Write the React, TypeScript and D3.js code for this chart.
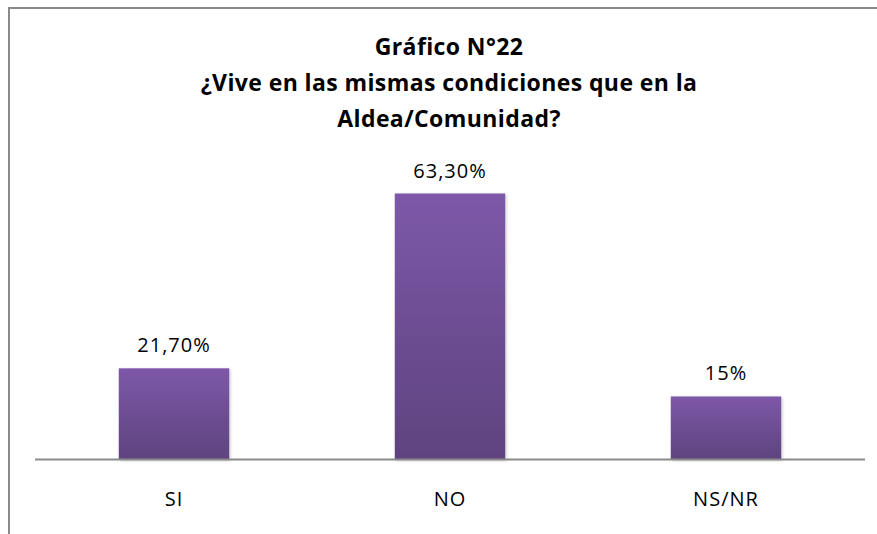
import React from "react";
import * as d3 from "d3";

const categories = ["SI", "NO", "NS/NR"];
const values = [21.7, 63.3, 15];
const valueLabels = ["21,70%", "63,30%", "15%"];
const titleLines = ["Gráfico N°22", "¿Vive en las mismas condiciones que en la", "Aldea/Comunidad?"];

export default function App() {
  const W = 877, H = 534;
  const x = d3.scaleBand<string>().domain(categories).range([36, 864]).paddingInner(0.6).paddingOuter(0.3);
  const y = d3.scaleLinear().domain([0, 63.3]).range([459.5, 193.5]);
  const font = "'Open Sans', sans-serif";
  return (
    <svg width={W} height={H} style={{ position: "absolute", left: 0, top: 0 }} fontFamily={font}>
      <defs>
        <linearGradient id="barGrad" x1="0" y1="0" x2="0" y2="1">
          <stop offset="0%" stopColor="#7D58A8" />
          <stop offset="100%" stopColor="#5E437F" />
        </linearGradient>
        <filter id="sh" x="-10%" y="-10%" width="120%" height="120%">
          <feDropShadow dx="1" dy="1" stdDeviation="1.5" floodColor="#000" floodOpacity="0.25" />
        </filter>
      </defs>
      <rect x={0} y={0} width={W} height={H} fill="#fff" />
      <path d={`M9,${H} V8 H${W}`} fill="none" stroke="#8a8a8a" strokeWidth={2} />
      {titleLines.map((t, i) => (
        <text key={i} x={449} y={55 + i * 36} textAnchor="middle" fontSize={23} fontWeight="bold" letterSpacing={0.4} fill="#000">{t}</text>
      ))}
      {categories.map((c, i) => (
        <g key={c}>
          <rect x={x(c)} y={y(values[i])} width={x.bandwidth()} height={y(0) - y(values[i])} fill="url(#barGrad)" filter="url(#sh)" />
          <text x={(x(c) as number) + x.bandwidth() / 2} y={y(values[i]) - 16} textAnchor="middle" fontSize={20} letterSpacing={1} fill="#000">{valueLabels[i]}</text>
          <text x={(x(c) as number) + x.bandwidth() / 2} y={506} textAnchor="middle" fontSize={20} letterSpacing={1} fill="#000">{c}</text>
        </g>
      ))}
      <line x1={35} x2={865} y1={459.5} y2={459.5} stroke="#8a8a8a" strokeWidth={2} />
    </svg>
  );
}
